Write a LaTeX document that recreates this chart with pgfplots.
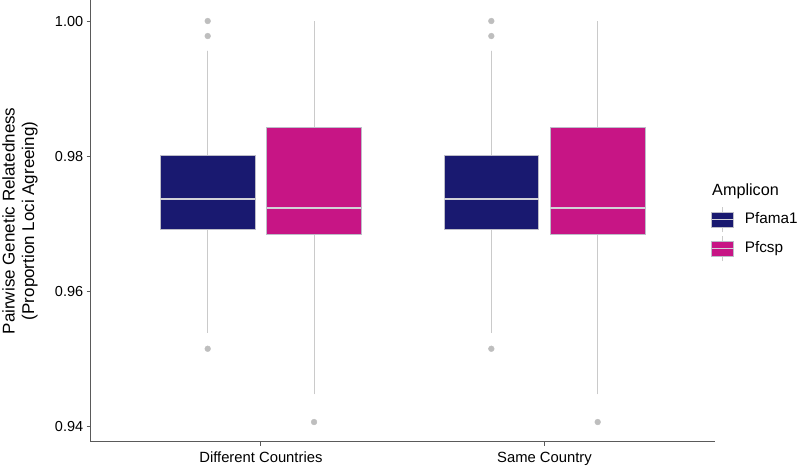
\documentclass[border=0pt]{standalone}
\usepackage{fontspec}
\setmainfont{Liberation Sans}
\usepackage{pgfplots}
\pgfplotsset{compat=1.18}
\usepgfplotslibrary{statistics}
\definecolor{mblue}{HTML}{191970}
\definecolor{mpink}{HTML}{C71585}
\definecolor{wgray}{HTML}{CACACA}
\definecolor{medgray}{HTML}{D2D2D8}
\definecolor{bordgray}{HTML}{BDBDC8}
\definecolor{ogray}{HTML}{BEBEBE}
\definecolor{agray}{HTML}{5A5A5A}
\begin{document}
\begin{tikzpicture}
\useasboundingbox (0pt,0pt) rectangle (797pt,467pt);
\begin{axis}[
  at={(90.7pt,25.3pt)}, anchor=south west,
  scale only axis, width=624pt, height=441.7pt,
  xmin=0.4, xmax=2.6, ymin=0.93777, ymax=1.00311,
  axis x line*=bottom, axis y line*=left,
  axis line style={-, agray, line width=1.1pt},
  tick align=outside, major tick length=4pt,
  tick style={agray, line width=0.9pt},
  xtick={1,2}, xticklabels={Different Countries, Same Country},
  ytick={0.94,0.96,0.98,1.00}, yticklabels={0.94,0.96,0.98,1.00},
  xticklabel style={font=\fontsize{14.8}{17}\selectfont, yshift=-3pt},
  yticklabel style={font=\fontsize{14.5}{17}\selectfont},
  ylabel={Pairwise Genetic Relatedness\\(Proportion Loci Agreeing)},
  ylabel style={at={(axis description cs:-0.1133,0.5)}, anchor=center, align=center, font=\fontsize{17}{19.5}\selectfont},
  legend style={at={(axis description cs:0.9941,0.5807)}, anchor=north west, draw=none, fill=none, inner sep=0pt, outer sep=0pt,
    row sep=14pt, column sep=10.3pt, font=\fontsize{15.3}{17}\selectfont,
    nodes={inner sep=0pt, text height=10.5pt, text depth=2.5pt}},
  legend cell align=left,
  boxplot/draw direction=y,
]
% Different Countries
\addplot+[forget plot, mark=none, draw=bordgray, fill=mblue, line width=0.7pt, boxplot prepared={lower whisker=0.95389, lower quartile=0.96923, median=0.97362, upper quartile=0.98007, upper whisker=0.99561, draw position=0.8125, box extend=0.334, whisker extend=0,
  every whisker/.style={draw=wgray, line width=1.1pt}, every median/.style={draw=medgray, line width=1.8pt}}] coordinates {};
\addplot+[forget plot, mark=none, draw=bordgray, fill=mpink, line width=0.7pt, boxplot prepared={lower whisker=0.94482, lower quartile=0.96845, median=0.97238, upper quartile=0.98422, upper whisker=1.0, draw position=1.1875, box extend=0.334, whisker extend=0,
  every whisker/.style={draw=wgray, line width=1.1pt}, every median/.style={draw=medgray, line width=1.8pt}}] coordinates {};
% Same Country
\addplot+[forget plot, mark=none, draw=bordgray, fill=mblue, line width=0.7pt, boxplot prepared={lower whisker=0.95389, lower quartile=0.96923, median=0.97362, upper quartile=0.98007, upper whisker=0.99561, draw position=1.8125, box extend=0.334, whisker extend=0,
  every whisker/.style={draw=wgray, line width=1.1pt}, every median/.style={draw=medgray, line width=1.8pt}}] coordinates {};
\addplot+[forget plot, mark=none, draw=bordgray, fill=mpink, line width=0.7pt, boxplot prepared={lower whisker=0.94482, lower quartile=0.96845, median=0.97238, upper quartile=0.98422, upper whisker=1.0, draw position=2.1875, box extend=0.334, whisker extend=0,
  every whisker/.style={draw=wgray, line width=1.1pt}, every median/.style={draw=medgray, line width=1.8pt}}] coordinates {};
% outliers
\addplot[forget plot, only marks, mark=*, mark size=2.9pt, color=ogray] coordinates {
  (0.8125,1.0) (0.8125,0.99778) (0.8125,0.95152) (1.1875,0.94068)
  (1.8125,1.0) (1.8125,0.99778) (1.8125,0.95152) (2.1875,0.94068)};
% legend
\addlegendimage{empty legend}
\addlegendentry{\hspace*{-32.6pt}\fontsize{16.2}{18}\selectfont Amplicon}
\addlegendimage{legend image code/.code={
  \draw[overlay, wgray, line width=0.9pt] (11pt,-12.5pt)--(11pt,12.5pt);
  \draw[draw=bordgray, fill=mblue, line width=0.6pt] (0pt,-7.2pt) rectangle (22pt,7.2pt);
  \draw[medgray, line width=1.5pt] (0pt,0pt)--(22pt,0pt);}}
\addlegendentry{Pfama1}
\addlegendimage{legend image code/.code={
  \draw[overlay, wgray, line width=0.9pt] (11pt,-12.5pt)--(11pt,12.5pt);
  \draw[draw=bordgray, fill=mpink, line width=0.6pt] (0pt,-7.2pt) rectangle (22pt,7.2pt);
  \draw[medgray, line width=1.5pt] (0pt,0pt)--(22pt,0pt);}}
\addlegendentry{Pfcsp}
\end{axis}
\end{tikzpicture}
\end{document}
